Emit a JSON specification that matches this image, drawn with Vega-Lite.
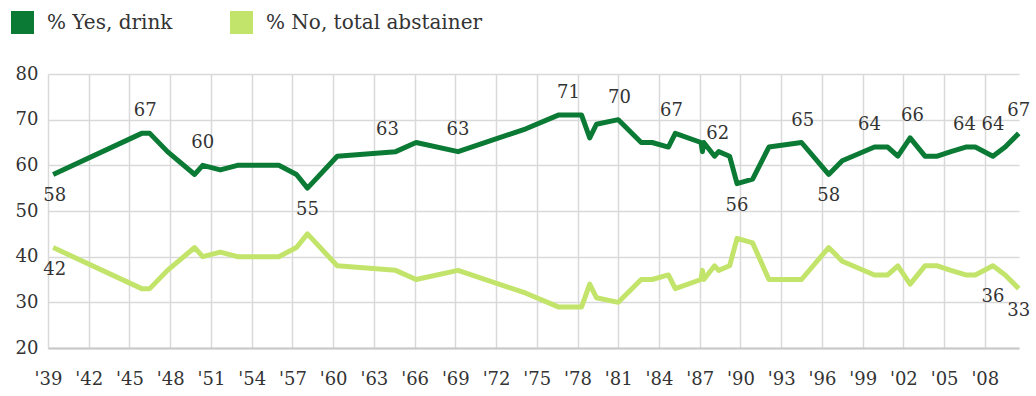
{
  "$schema": "https://vega.github.io/schema/vega-lite/v6.json",
  "width": 971,
  "height": 274,
  "autosize": {"type": "none"},
  "padding": {"left": 48, "top": 74, "right": 17, "bottom": 48},
  "background": "white",
  "datasets": {
    "poll": [
      {"date": "1939-05-20", "series": "% Yes, drink", "pct": 58},
      {"date": "1945-11-25", "series": "% Yes, drink", "pct": 67},
      {"date": "1946-07-01", "series": "% Yes, drink", "pct": 67},
      {"date": "1947-10-20", "series": "% Yes, drink", "pct": 63},
      {"date": "1949-10-20", "series": "% Yes, drink", "pct": 58},
      {"date": "1950-05-25", "series": "% Yes, drink", "pct": 60},
      {"date": "1951-09-10", "series": "% Yes, drink", "pct": 59},
      {"date": "1952-12-15", "series": "% Yes, drink", "pct": 60},
      {"date": "1956-01-01", "series": "% Yes, drink", "pct": 60},
      {"date": "1957-04-20", "series": "% Yes, drink", "pct": 58},
      {"date": "1958-02-10", "series": "% Yes, drink", "pct": 55},
      {"date": "1960-04-20", "series": "% Yes, drink", "pct": 62},
      {"date": "1964-08-10", "series": "% Yes, drink", "pct": 63},
      {"date": "1966-02-10", "series": "% Yes, drink", "pct": 65},
      {"date": "1969-03-15", "series": "% Yes, drink", "pct": 63},
      {"date": "1974-03-15", "series": "% Yes, drink", "pct": 68},
      {"date": "1976-08-01", "series": "% Yes, drink", "pct": 71},
      {"date": "1978-04-20", "series": "% Yes, drink", "pct": 71},
      {"date": "1978-11-25", "series": "% Yes, drink", "pct": 66},
      {"date": "1979-05-25", "series": "% Yes, drink", "pct": 69},
      {"date": "1981-01-01", "series": "% Yes, drink", "pct": 70},
      {"date": "1982-09-10", "series": "% Yes, drink", "pct": 65},
      {"date": "1983-07-01", "series": "% Yes, drink", "pct": 65},
      {"date": "1984-09-10", "series": "% Yes, drink", "pct": 64},
      {"date": "1985-03-15", "series": "% Yes, drink", "pct": 67},
      {"date": "1987-02-05", "series": "% Yes, drink", "pct": 65},
      {"date": "1987-03-15", "series": "% Yes, drink", "pct": 63},
      {"date": "1987-04-20", "series": "% Yes, drink", "pct": 65},
      {"date": "1988-02-05", "series": "% Yes, drink", "pct": 62},
      {"date": "1988-05-25", "series": "% Yes, drink", "pct": 63},
      {"date": "1989-03-15", "series": "% Yes, drink", "pct": 62},
      {"date": "1989-10-01", "series": "% Yes, drink", "pct": 56},
      {"date": "1990-11-25", "series": "% Yes, drink", "pct": 57},
      {"date": "1992-02-05", "series": "% Yes, drink", "pct": 64},
      {"date": "1994-07-01", "series": "% Yes, drink", "pct": 65},
      {"date": "1996-07-01", "series": "% Yes, drink", "pct": 58},
      {"date": "1997-07-01", "series": "% Yes, drink", "pct": 61},
      {"date": "1999-11-15", "series": "% Yes, drink", "pct": 64},
      {"date": "2000-11-05", "series": "% Yes, drink", "pct": 64},
      {"date": "2001-08-05", "series": "% Yes, drink", "pct": 62},
      {"date": "2002-07-01", "series": "% Yes, drink", "pct": 66},
      {"date": "2003-08-05", "series": "% Yes, drink", "pct": 62},
      {"date": "2004-07-01", "series": "% Yes, drink", "pct": 62},
      {"date": "2005-07-01", "series": "% Yes, drink", "pct": 63},
      {"date": "2006-08-05", "series": "% Yes, drink", "pct": 64},
      {"date": "2007-04-20", "series": "% Yes, drink", "pct": 64},
      {"date": "2008-08-05", "series": "% Yes, drink", "pct": 62},
      {"date": "2009-07-01", "series": "% Yes, drink", "pct": 64},
      {"date": "2010-07-01", "series": "% Yes, drink", "pct": 67},

      {"date": "1939-05-20", "series": "% No, total abstainer", "pct": 42},
      {"date": "1945-11-25", "series": "% No, total abstainer", "pct": 33},
      {"date": "1946-07-01", "series": "% No, total abstainer", "pct": 33},
      {"date": "1947-10-20", "series": "% No, total abstainer", "pct": 37},
      {"date": "1949-10-20", "series": "% No, total abstainer", "pct": 42},
      {"date": "1950-05-25", "series": "% No, total abstainer", "pct": 40},
      {"date": "1951-09-10", "series": "% No, total abstainer", "pct": 41},
      {"date": "1952-12-15", "series": "% No, total abstainer", "pct": 40},
      {"date": "1956-01-01", "series": "% No, total abstainer", "pct": 40},
      {"date": "1957-04-20", "series": "% No, total abstainer", "pct": 42},
      {"date": "1958-02-10", "series": "% No, total abstainer", "pct": 45},
      {"date": "1960-04-20", "series": "% No, total abstainer", "pct": 38},
      {"date": "1964-08-10", "series": "% No, total abstainer", "pct": 37},
      {"date": "1966-02-10", "series": "% No, total abstainer", "pct": 35},
      {"date": "1969-03-15", "series": "% No, total abstainer", "pct": 37},
      {"date": "1974-03-15", "series": "% No, total abstainer", "pct": 32},
      {"date": "1976-08-01", "series": "% No, total abstainer", "pct": 29},
      {"date": "1978-04-20", "series": "% No, total abstainer", "pct": 29},
      {"date": "1978-11-25", "series": "% No, total abstainer", "pct": 34},
      {"date": "1979-05-25", "series": "% No, total abstainer", "pct": 31},
      {"date": "1981-01-01", "series": "% No, total abstainer", "pct": 30},
      {"date": "1982-09-10", "series": "% No, total abstainer", "pct": 35},
      {"date": "1983-07-01", "series": "% No, total abstainer", "pct": 35},
      {"date": "1984-09-10", "series": "% No, total abstainer", "pct": 36},
      {"date": "1985-03-15", "series": "% No, total abstainer", "pct": 33},
      {"date": "1987-02-05", "series": "% No, total abstainer", "pct": 35},
      {"date": "1987-03-15", "series": "% No, total abstainer", "pct": 37},
      {"date": "1987-04-20", "series": "% No, total abstainer", "pct": 35},
      {"date": "1988-02-05", "series": "% No, total abstainer", "pct": 38},
      {"date": "1988-05-25", "series": "% No, total abstainer", "pct": 37},
      {"date": "1989-03-15", "series": "% No, total abstainer", "pct": 38},
      {"date": "1989-10-01", "series": "% No, total abstainer", "pct": 44},
      {"date": "1990-11-25", "series": "% No, total abstainer", "pct": 43},
      {"date": "1992-02-05", "series": "% No, total abstainer", "pct": 35},
      {"date": "1994-07-01", "series": "% No, total abstainer", "pct": 35},
      {"date": "1996-07-01", "series": "% No, total abstainer", "pct": 42},
      {"date": "1997-07-01", "series": "% No, total abstainer", "pct": 39},
      {"date": "1999-11-15", "series": "% No, total abstainer", "pct": 36},
      {"date": "2000-11-05", "series": "% No, total abstainer", "pct": 36},
      {"date": "2001-08-05", "series": "% No, total abstainer", "pct": 38},
      {"date": "2002-07-01", "series": "% No, total abstainer", "pct": 34},
      {"date": "2003-08-05", "series": "% No, total abstainer", "pct": 38},
      {"date": "2004-07-01", "series": "% No, total abstainer", "pct": 38},
      {"date": "2005-07-01", "series": "% No, total abstainer", "pct": 37},
      {"date": "2006-08-05", "series": "% No, total abstainer", "pct": 36},
      {"date": "2007-04-20", "series": "% No, total abstainer", "pct": 36},
      {"date": "2008-08-05", "series": "% No, total abstainer", "pct": 38},
      {"date": "2009-07-01", "series": "% No, total abstainer", "pct": 36},
      {"date": "2010-07-01", "series": "% No, total abstainer", "pct": 33}
    ],
    "labelsAbove": [
      {"date": "1946-03-01", "pct": 67},
      {"date": "1950-05-25", "pct": 60},
      {"date": "1964-01-01", "pct": 63},
      {"date": "1969-03-15", "pct": 63},
      {"date": "1977-05-01", "pct": 71},
      {"date": "1981-02-01", "pct": 70},
      {"date": "1984-12-01", "pct": 67},
      {"date": "1988-05-01", "pct": 62},
      {"date": "1994-08-01", "pct": 65},
      {"date": "1999-07-01", "pct": 64},
      {"date": "2002-09-01", "pct": 66},
      {"date": "2006-07-01", "pct": 64},
      {"date": "2008-08-05", "pct": 64},
      {"date": "2010-07-01", "pct": 67}
    ],
    "labelsBelow": [
      {"date": "1939-07-01", "pct": 58},
      {"date": "1958-02-10", "pct": 55},
      {"date": "1989-10-01", "pct": 56},
      {"date": "1996-07-01", "pct": 58},
      {"date": "1939-07-01", "pct": 42},
      {"date": "2008-08-05", "pct": 36},
      {"date": "2010-07-01", "pct": 33}
    ]
  },
  "config": {
    "view": {"stroke": null},
    "font": "DejaVu Serif",
    "axis": {
      "labelFont": "DejaVu Serif",
      "labelFontSize": 18,
      "labelColor": "#333333",
      "ticks": false,
      "gridColor": "#d9d9d9",
      "gridWidth": 1.5,
      "title": null
    },
    "legend": {
      "orient": "none",
      "legendX": -37,
      "legendY": -63,
      "padding": 0,
      "direction": "horizontal",
      "symbolType": "square",
      "symbolSize": 529,
      "symbolStrokeWidth": 0,
      "labelFont": "DejaVu Serif",
      "labelFontSize": 20,
      "labelColor": "#333333",
      "labelOffset": 13,
      "labelLimit": 400,
      "columnPadding": 57,
      "title": null
    }
  },
  "encoding": {
    "x": {
      "field": "date",
      "type": "temporal",
      "scale": {
        "type": "utc",
        "domain": [
          {"year": 1939, "month": 1, "date": 1, "utc": true},
          {"year": 2010, "month": 7, "date": 8, "utc": true}
        ]
      },
      "axis": {
        "values": [
          {"year": 1939, "utc": true}, {"year": 1942, "utc": true}, {"year": 1945, "utc": true},
          {"year": 1948, "utc": true}, {"year": 1951, "utc": true}, {"year": 1954, "utc": true},
          {"year": 1957, "utc": true}, {"year": 1960, "utc": true}, {"year": 1963, "utc": true},
          {"year": 1966, "utc": true}, {"year": 1969, "utc": true}, {"year": 1972, "utc": true},
          {"year": 1975, "utc": true}, {"year": 1978, "utc": true}, {"year": 1981, "utc": true},
          {"year": 1984, "utc": true}, {"year": 1987, "utc": true}, {"year": 1990, "utc": true},
          {"year": 1993, "utc": true}, {"year": 1996, "utc": true}, {"year": 1999, "utc": true},
          {"year": 2002, "utc": true}, {"year": 2005, "utc": true}, {"year": 2008, "utc": true}
        ],
        "labelExpr": "\"'\" + utcFormat(datum.value, '%y')",
        "labelPadding": 22,
        "labelBaseline": "top",
        "labelFlush": false,
        "labelOverlap": false,
        "domain": true,
        "domainColor": "#c8c8c8",
        "domainWidth": 2,
        "grid": true
      }
    },
    "y": {
      "field": "pct",
      "type": "quantitative",
      "scale": {"domain": [20, 80], "nice": false, "zero": false},
      "axis": {
        "values": [20, 30, 40, 50, 60, 70, 80],
        "labelPadding": 10,
        "domain": false,
        "grid": true
      }
    }
  },
  "layer": [
    {
      "data": {"name": "poll"},
      "mark": {"type": "line", "strokeWidth": 5, "strokeJoin": "round"},
      "encoding": {
        "color": {
          "field": "series",
          "type": "nominal",
          "scale": {
            "domain": ["% Yes, drink", "% No, total abstainer"],
            "range": ["#0b7a34", "#c3e46b"]
          },
          "legend": {
            "encode": {
              "symbols": {
                "update": {
                  "fill": {"scale": "color", "field": "value"},
                  "strokeWidth": {"value": 0}
                }
              }
            }
          }
        }
      }
    },
    {
      "data": {"name": "labelsAbove"},
      "mark": {"type": "text", "fontSize": 18, "font": "DejaVu Serif", "color": "#333333", "baseline": "middle", "dy": -22},
      "encoding": {"text": {"field": "pct", "type": "quantitative"}}
    },
    {
      "data": {"name": "labelsBelow"},
      "mark": {"type": "text", "fontSize": 18, "font": "DejaVu Serif", "color": "#333333", "baseline": "middle", "dy": 22},
      "encoding": {"text": {"field": "pct", "type": "quantitative"}}
    }
  ]
}
